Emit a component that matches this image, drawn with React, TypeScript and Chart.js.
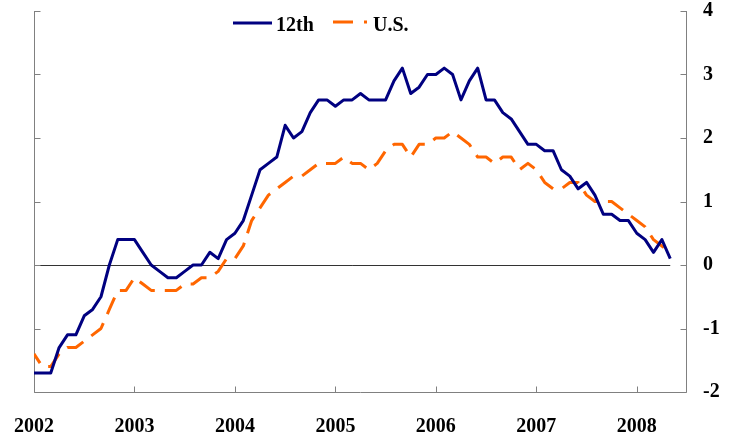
import React, { useEffect, useRef } from 'react';
import { Chart, registerables } from 'chart.js';

Chart.register(...registerables);

// Monthly data, index 0 = Jan 2002
const startYear = 2002;
const yearTicks = ['2002', '2003', '2004', '2005', '2006', '2007', '2008'];
const yTicks = [-2, -1, 0, 1, 2, 3, 4];
const seriesNames = ['12th', 'U.S.'];

const twelfth = [
  -1.7, -1.7, -1.7, -1.3, -1.1, -1.1, -0.8, -0.7, -0.5, 0.0, 0.4, 0.4,
  0.4, 0.2, 0.0, -0.1, -0.2, -0.2, -0.1, 0.0, 0.0, 0.2, 0.1, 0.4,
  0.5, 0.7, 1.1, 1.5, 1.6, 1.7, 2.2, 2.0, 2.1, 2.4, 2.6, 2.6,
  2.5, 2.6, 2.6, 2.7, 2.6, 2.6, 2.6, 2.9, 3.1, 2.7, 2.8, 3.0,
  3.0, 3.1, 3.0, 2.6, 2.9, 3.1, 2.6, 2.6, 2.4, 2.3, 2.1, 1.9,
  1.9, 1.8, 1.8, 1.5, 1.4, 1.2, 1.3, 1.1, 0.8, 0.8, 0.7, 0.7,
  0.5, 0.4, 0.2, 0.4, 0.1,
];

const us = [
  -1.4, -1.6, -1.6, -1.4, -1.3, -1.3, -1.2, -1.1, -1.0, -0.7, -0.4, -0.4,
  -0.2, -0.3, -0.4, -0.4, -0.4, -0.4, -0.3, -0.3, -0.2, -0.2, -0.1, 0.1,
  0.1, 0.3, 0.7, 0.9, 1.1, 1.2, 1.3, 1.4, 1.4, 1.5, 1.6, 1.6,
  1.6, 1.7, 1.6, 1.6, 1.5, 1.6, 1.8, 1.9, 1.9, 1.7, 1.9, 1.9,
  2.0, 2.0, 2.1, 2.0, 1.9, 1.7, 1.7, 1.6, 1.7, 1.7, 1.5, 1.6,
  1.5, 1.3, 1.2, 1.2, 1.3, 1.3, 1.1, 1.0, 1.0, 1.0, 0.9, 0.8,
  0.7, 0.6, 0.4, 0.3, 0.2,
];

const BLUE = '#000080';
const ORANGE = '#FF6600';
const AXIS = '#808080';
const FONT = '"Liberation Serif", "Times New Roman", Times, serif';

export default function App() {
  const ref = useRef<HTMLCanvasElement>(null);

  useEffect(() => {
    document.body.style.margin = '0';
    const canvas = ref.current;
    if (!canvas) return;

    const axesPlugin = {
      id: 'customAxes',
      beforeDatasetsDraw(chart: any) {
        const { ctx, chartArea: a, scales } = chart;
        const xs = scales.x;
        const ys = scales.y;
        ctx.save();
        // zero reference line
        const y0 = Math.round(ys.getPixelForValue(0)) + 0.5;
        ctx.strokeStyle = '#333333';
        ctx.lineWidth = 1;
        ctx.beginPath();
        ctx.moveTo(a.left, y0);
        ctx.lineTo(xs.getPixelForValue(twelfth.length - 1), y0);
        ctx.stroke();

        // axis lines
        ctx.strokeStyle = AXIS;
        ctx.lineWidth = 1;
        const L = Math.round(a.left) + 0.5;
        const R = Math.round(a.right) - 0.5;
        const B = Math.round(a.bottom) + 0.5;
        ctx.beginPath();
        ctx.moveTo(L, a.top);
        ctx.lineTo(L, B);
        ctx.lineTo(R, B);
        ctx.moveTo(R, a.top);
        ctx.lineTo(R, B);
        ctx.stroke();

        // inward ticks
        ctx.beginPath();
        yTicks.forEach((v) => {
          const py = Math.round(ys.getPixelForValue(v)) + 0.5;
          ctx.moveTo(L, py);
          ctx.lineTo(L + 6, py);
          ctx.moveTo(R, py);
          ctx.lineTo(R - 6, py);
        });
        yearTicks.forEach((_, i) => {
          const px = Math.round(xs.getPixelForValue(i * 12)) + 0.5;
          ctx.moveTo(px, B);
          ctx.lineTo(px, B - 6);
        });
        ctx.stroke();
        ctx.restore();
      },
      afterDraw(chart: any) {
        const { ctx } = chart;
        ctx.save();
        ctx.font = `bold 20px ${FONT}`;
        ctx.fillStyle = '#000';
        ctx.textBaseline = 'alphabetic';
        ctx.textAlign = 'left';
        // 12th
        ctx.strokeStyle = BLUE;
        ctx.lineWidth = 3;
        ctx.beginPath();
        ctx.moveTo(233, 23);
        ctx.lineTo(272, 23);
        ctx.stroke();
        ctx.fillText(seriesNames[0], 276, 31);
        // U.S.
        ctx.strokeStyle = ORANGE;
        ctx.setLineDash([20, 11]);
        ctx.beginPath();
        ctx.moveTo(333, 22);
        ctx.lineTo(367, 22);
        ctx.stroke();
        ctx.setLineDash([]);
        ctx.fillText(seriesNames[1], 373, 31);
        ctx.restore();
      },
    };

    const chart = new Chart(canvas, {
      type: 'line',
      data: {
        datasets: [
          {
            label: seriesNames[0],
            data: twelfth.map((v, i) => ({ x: i, y: v })),
            borderColor: BLUE,
            borderWidth: 3,
            pointRadius: 0,
            tension: 0,
            borderJoinStyle: 'round',
          },
          {
            label: seriesNames[1],
            data: us.map((v, i) => ({ x: i, y: v })),
            borderColor: ORANGE,
            borderWidth: 3,
            borderDash: [18, 10],
            borderDashOffset: 7,
            pointRadius: 0,
            tension: 0,
            borderJoinStyle: 'round',
          },
        ],
      },
      options: {
        responsive: false,
        animation: false,
        layout: { padding: { left: 34, top: 11, right: 0, bottom: 0 } },
        plugins: {
          legend: { display: false },
          tooltip: { enabled: false },
        },
        scales: {
          x: {
            type: 'linear',
            min: 0,
            max: 78,
            border: { display: false },
            grid: { display: false, drawTicks: false },
            ticks: {
              stepSize: 12,
              includeBounds: false,
              autoSkip: false,
              maxRotation: 0,
              padding: 23,
              color: '#000',
              font: { family: FONT, size: 20, weight: 'bold' },
              callback: (v: any) => {
                const idx = Math.round(Number(v) / 12);
                return yearTicks[idx] ?? String(startYear + idx);
              },
            },
            afterFit: (s: any) => {
              s.height = 53;
              s.paddingLeft = 0;
              s.paddingRight = 0;
            },
          },
          y: {
            position: 'right',
            min: -2,
            max: 4,
            border: { display: false },
            grid: { display: false, drawTicks: false },
            ticks: {
              stepSize: 1,
              padding: 16,
              color: '#000',
              font: { family: FONT, size: 20, weight: 'bold' },
              callback: (v: any) => String(v),
            },
            afterFit: (s: any) => {
              s.width = 51;
              s.paddingTop = 0;
              s.paddingBottom = 0;
            },
          },
        },
      },
      plugins: [axesPlugin],
    } as any);

    return () => chart.destroy();
  }, []);

  return (
    <div style={{ width: 738, height: 445, background: '#fff' }}>
      <canvas ref={ref} width={738} height={445} style={{ display: 'block' }} />
    </div>
  );
}
